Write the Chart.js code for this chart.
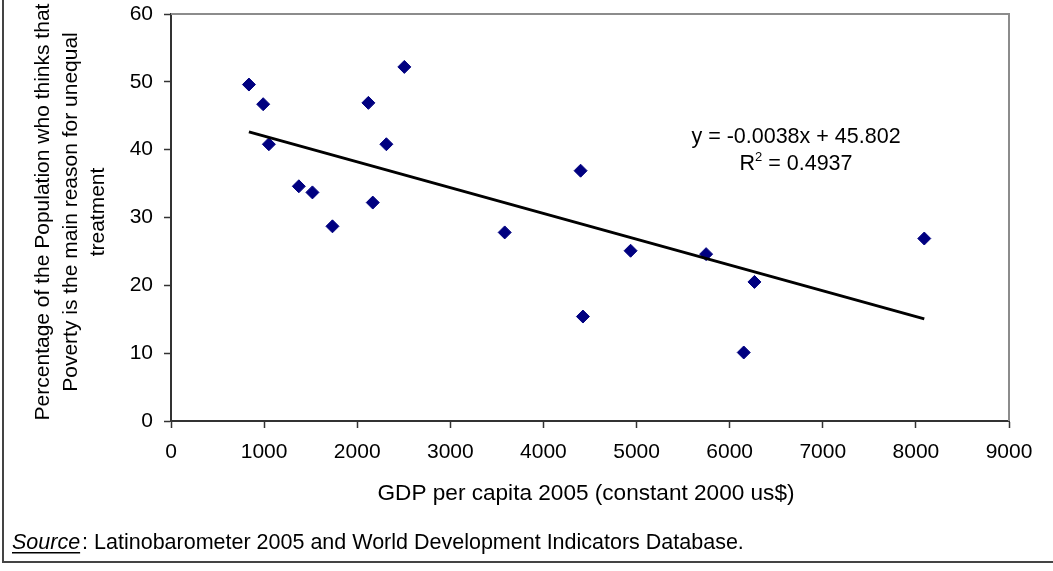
<!DOCTYPE html>
<html>
<head>
<meta charset="utf-8">
<script src="https://cdn.jsdelivr.net/npm/chart.js@4.4.1/dist/chart.umd.min.js"></script>
<style>
  body { margin: 0; background: #fff; }
  #wrap { width: 1053px; height: 571px; position: relative; }
</style>
</head>
<body>
<div id="wrap"><canvas id="chart" width="1053" height="571"></canvas></div>
<script>
// GDP per capita 2005 (constant 2000 us$) per country
const gdpValues = [837, 990, 1051, 1373, 1519, 1734, 2120, 2167, 2313, 2506, 3584, 4399, 4424, 4936, 5747, 6151, 6266, 8090];
// share of population who names poverty as main reason for unequal treatment
const povertyShare = [49.6, 46.7, 40.8, 34.6, 33.7, 28.7, 46.9, 32.2, 40.8, 52.2, 27.8, 36.9, 15.4, 25.1, 24.6, 10.1, 20.5, 26.9];

// linear trend as printed on the chart
const trendSlope = -0.0038;
const trendIntercept = 45.802;
const trendLabel = 'y = -0.0038x + 45.802';
const r2Value = '0.4937';

const xTicks = [0, 1000, 2000, 3000, 4000, 5000, 6000, 7000, 8000, 9000];
const yTicks = [0, 10, 20, 30, 40, 50, 60];

const yTitleLines = [
    'Percentage of the Population who thinks that',
    'Poverty is the main reason for unequal',
    'treatment'
];
const xTitle = 'GDP per capita 2005 (constant 2000 us$)';

const FONT = '"Liberation Sans", Arial, sans-serif';

const points = gdpValues.map((g, i) => ({ x: g, y: povertyShare[i] }));
const xMin = Math.min(...gdpValues);
const xMax = Math.max(...gdpValues);
const trendPoints = [
    { x: xMin, y: trendSlope * xMin + trendIntercept },
    { x: xMax, y: trendSlope * xMax + trendIntercept }
];

const extras = {
    id: 'extras',
    beforeDatasetsDraw(chart) {
        const { ctx, chartArea: a } = chart;
        ctx.save();
        // grey frame on top and right of plot
        ctx.strokeStyle = '#8c8c8c';
        ctx.lineWidth = 2;
        ctx.beginPath();
        ctx.moveTo(a.left, a.top);
        ctx.lineTo(a.right, a.top);
        ctx.lineTo(a.right, a.bottom);
        ctx.stroke();
        ctx.restore();
    },
    afterDraw(chart) {
        const { ctx } = chart;
        ctx.save();
        ctx.fillStyle = '#000';

        // y axis title, three rotated lines
        ctx.font = '21px ' + FONT;
        ctx.textAlign = 'center';
        ctx.textBaseline = 'middle';
        const lineX = [43, 71, 98];
        yTitleLines.forEach((t, i) => {
            ctx.save();
            ctx.translate(lineX[i], 212);
            ctx.rotate(-Math.PI / 2);
            ctx.fillText(t, 0, 0);
            ctx.restore();
        });

        // x axis title
        ctx.font = '22.6px ' + FONT;
        ctx.fillText(xTitle, 586, 494);

        // equation and R squared
        ctx.font = '21.5px ' + FONT;
        ctx.fillText(trendLabel, 796, 137);
        const rText = ' = ' + r2Value;
        const wR = ctx.measureText('R').width;
        ctx.font = '13px ' + FONT;
        const w2 = ctx.measureText('2').width;
        ctx.font = '21.5px ' + FONT;
        const wRest = ctx.measureText(rText).width;
        let sx = 796 - (wR + w2 + wRest) / 2;
        ctx.textAlign = 'left';
        ctx.fillText('R', sx, 164);
        ctx.font = '13px ' + FONT;
        ctx.fillText('2', sx + wR, 157);
        ctx.font = '21.5px ' + FONT;
        ctx.fillText(rText, sx + wR + w2, 164);

        // source note
        ctx.font = 'italic 21.5px ' + FONT;
        ctx.textBaseline = 'alphabetic';
        ctx.fillText('Source', 12, 549);
        const ws = ctx.measureText('Source').width;
        ctx.fillRect(12, 552, ws, 1.5);
        ctx.font = '21.5px ' + FONT;
        ctx.fillText(': Latinobarometer 2005 and World Development Indicators Database.', 12 + ws + 2, 549);

        // outer frame, left and bottom
        ctx.strokeStyle = '#444';
        ctx.lineWidth = 2;
        ctx.beginPath();
        ctx.moveTo(3, 0);
        ctx.lineTo(3, 562);
        ctx.lineTo(1053, 562);
        ctx.stroke();
        ctx.restore();
    }
};

new Chart(document.getElementById('chart'), {
    type: 'scatter',
    data: {
        datasets: [
            {
                type: 'line',
                data: trendPoints,
                borderColor: '#000',
                borderWidth: 3,
                pointRadius: 0,
                fill: false
            },
            {
                data: points,
                pointStyle: 'rectRot',
                pointRadius: 6.5,
                pointBorderWidth: 1,
                backgroundColor: '#000080',
                borderColor: '#000080'
            }
        ]
    },
    options: {
        responsive: false,
        animation: false,
        layout: { padding: { top: 14, right: 44, left: 0, bottom: 0 } },
        plugins: { legend: { display: false }, tooltip: { enabled: false } },
        scales: {
            x: {
                type: 'linear',
                min: 0,
                max: 9000,
                afterFit(scale) {
                    scale.height = 150;
                    scale.paddingLeft = 0;
                    scale.paddingRight = 0;
                },
                afterBuildTicks(scale) { scale.ticks = xTicks.map(v => ({ value: v })); },
                ticks: {
                    color: '#000', font: { family: FONT, size: 21 }, padding: 12, maxRotation: 0, autoSkip: false,
                    callback: v => String(v)
                },
                grid: { drawOnChartArea: false, tickLength: 7, tickColor: '#333', tickWidth: 1.5 },
                border: { color: '#333', width: 2 }
            },
            y: {
                type: 'linear',
                min: 0,
                max: 60,
                afterFit(scale) {
                    scale.width = 171;
                    scale.paddingTop = 0;
                    scale.paddingBottom = 0;
                },
                afterBuildTicks(scale) { scale.ticks = yTicks.map(v => ({ value: v })); },
                ticks: {
                    color: '#000', font: { family: FONT, size: 21 }, padding: 11, autoSkip: false,
                    callback: v => String(v)
                },
                grid: { drawOnChartArea: false, tickLength: 7, tickColor: '#333', tickWidth: 1.5 },
                border: { color: '#333', width: 2 }
            }
        }
    },
    plugins: [extras]
});
</script>
</body>
</html>
